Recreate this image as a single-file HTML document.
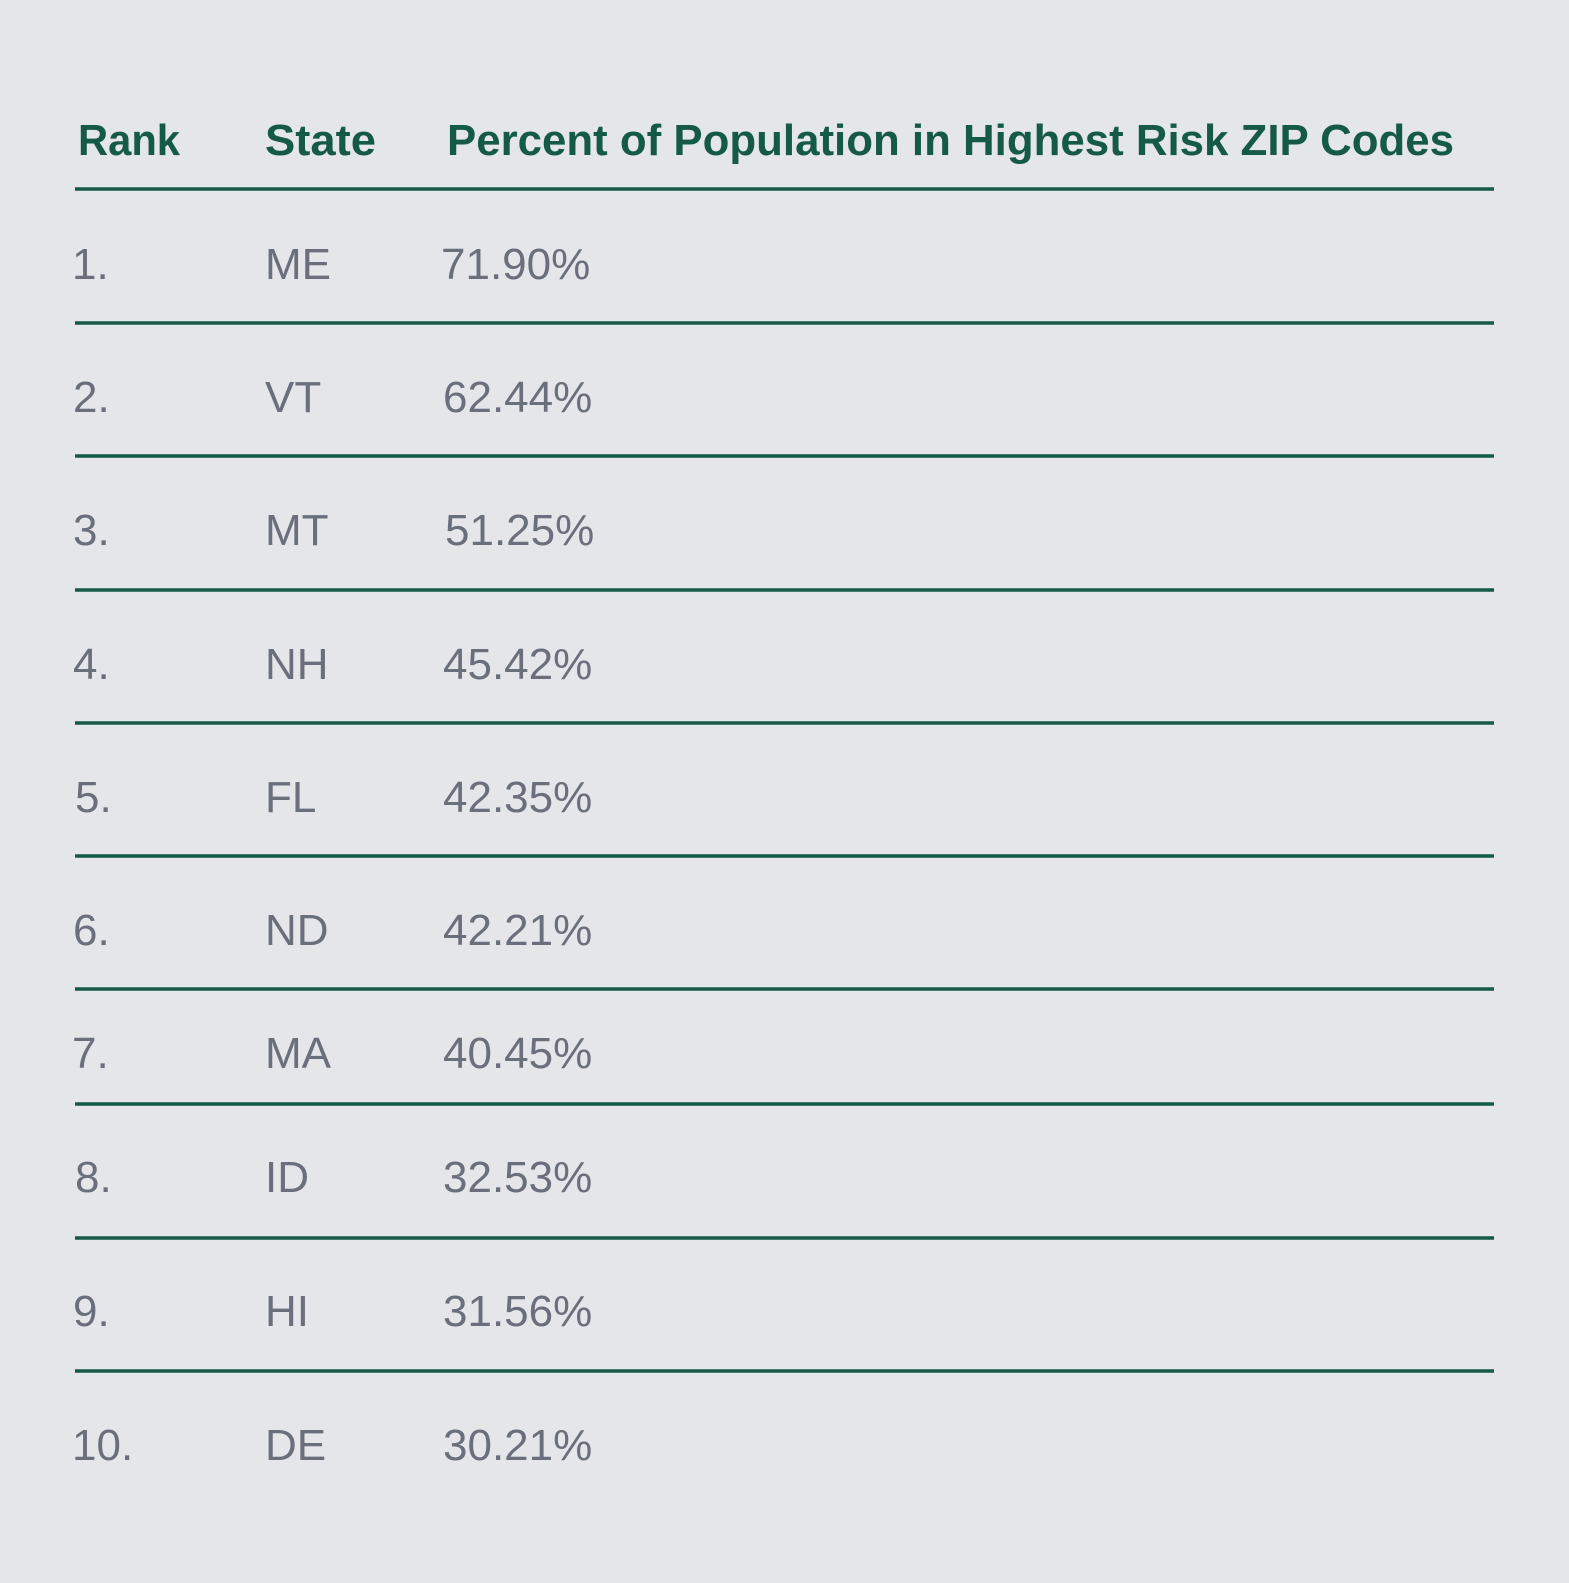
<!DOCTYPE html>
<html><head><style>
html,body{margin:0;padding:0;background:#e4e6e9;}
svg{display:block}
</style></head><body>
<svg width="1569" height="1583" viewBox="0 0 1569 1583" xmlns="http://www.w3.org/2000/svg">
<rect width="1569" height="1583" fill="#e4e6e9"/>
<g font-family="Liberation Sans, sans-serif" font-weight="bold" font-size="44" fill="#155a46">
<text x="78" y="155" textLength="102" lengthAdjust="spacingAndGlyphs">Rank</text>
<text x="265" y="155" textLength="111" lengthAdjust="spacingAndGlyphs">State</text>
<text x="447" y="155" textLength="1007" lengthAdjust="spacingAndGlyphs">Percent of Population in Highest Risk ZIP Codes</text>
</g>
<g stroke="#155a46" stroke-width="3.5">
<line x1="75" x2="1494" y1="189" y2="189"/>
<line x1="75" x2="1494" y1="323" y2="323"/>
<line x1="75" x2="1494" y1="456" y2="456"/>
<line x1="75" x2="1494" y1="590" y2="590"/>
<line x1="75" x2="1494" y1="723" y2="723"/>
<line x1="75" x2="1494" y1="856" y2="856"/>
<line x1="75" x2="1494" y1="989" y2="989"/>
<line x1="75" x2="1494" y1="1104" y2="1104"/>
<line x1="75" x2="1494" y1="1238" y2="1238"/>
<line x1="75" x2="1494" y1="1371" y2="1371"/>
</g>
<g font-family="Liberation Sans, sans-serif" font-size="44" fill="#6a707b">
<text x="72" y="279">1.</text><text x="265" y="279">ME</text><text x="441" y="279">71.90%</text>
<text x="73" y="412">2.</text><text x="265" y="412">VT</text><text x="443" y="412">62.44%</text>
<text x="73" y="545">3.</text><text x="265" y="545">MT</text><text x="445" y="545">51.25%</text>
<text x="73" y="679">4.</text><text x="265" y="679">NH</text><text x="443" y="679">45.42%</text>
<text x="75" y="812">5.</text><text x="265" y="812">FL</text><text x="443" y="812">42.35%</text>
<text x="73" y="945">6.</text><text x="265" y="945">ND</text><text x="443" y="945">42.21%</text>
<text x="72" y="1068">7.</text><text x="265" y="1068">MA</text><text x="443" y="1068">40.45%</text>
<text x="75" y="1192">8.</text><text x="265" y="1192">ID</text><text x="443" y="1192">32.53%</text>
<text x="73" y="1326">9.</text><text x="265" y="1326">HI</text><text x="443" y="1326">31.56%</text>
<text x="72" y="1460">10.</text><text x="265" y="1460">DE</text><text x="443" y="1460">30.21%</text>
</g>
</svg>
</body></html>
